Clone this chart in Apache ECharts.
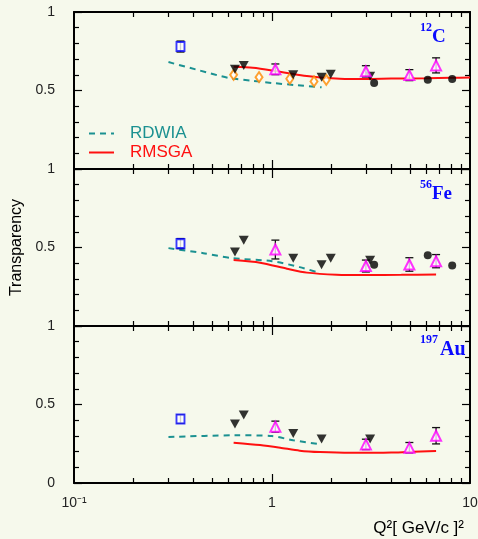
<!DOCTYPE html>
<html><head><meta charset="utf-8">
<script src="https://cdn.jsdelivr.net/npm/echarts@6/dist/echarts.min.js"></script>
<style>html,body{margin:0;padding:0;background:#f6f9ec}#c{width:478px;height:539px}</style>
</head><body><div id="c"></div><script>
// ---- data (Q^2 in (GeV/c)^2, transparency) ----
const qSquare = [0.345];
const qTriangle = [0.65, 0.72, 1.28, 1.78, 1.98, 3.13];
const qTriangleAu = [0.65, 0.72, 1.28, 1.78, 3.13];
const qMagenta = [1.04, 2.98, 4.94, 6.74];
const qCircle = [3.28, 6.12, 8.13];
const qDiamond = [0.64, 0.86, 1.23, 1.63, 1.88];

// 12C
const squareC = [0.78], squareErrC = [0.035];
const triangleC = [0.635, 0.66, 0.60, 0.585, 0.603, 0.59];
const magentaC = [0.635, 0.622, 0.598, 0.66], magentaErrC = [0.034, 0.036, 0.035, 0.048];
const circleC = [0.547, 0.568, 0.573];
const diamondC = [0.60, 0.585, 0.575, 0.558, 0.568];
const rdwiaQC = [0.3, 0.43, 0.6, 0.8, 1.0, 1.3, 1.78];
const rdwiaC = [0.681, 0.628, 0.581, 0.562, 0.548, 0.535, 0.52];
const rmsgaQC = [0.64, 0.8, 1.0, 1.28, 1.5, 1.75, 2.2, 3, 4, 6, 8, 10];
const rmsgaC = [0.652, 0.645, 0.628, 0.605, 0.592, 0.583, 0.575, 0.573, 0.576, 0.578, 0.581, 0.583];

// 56Fe
const squareFe = [0.525], squareErrFe = [0.032];
const triangleFe = [0.472, 0.546, 0.432, 0.39, 0.432, 0.418];
const magentaFe = [0.487, 0.382, 0.392, 0.413], magentaErrFe = [0.06, 0.038, 0.043, 0.042];
const circleFe = [0.39, 0.451, 0.386];
const rdwiaQFe = [0.3, 0.45, 0.63, 1.0, 1.38, 1.75];
const rdwiaFe = [0.496, 0.464, 0.432, 0.413, 0.375, 0.337];
const rmsgaQFe = [0.64, 0.87, 1.19, 1.5, 2.12, 3, 4.5, 6.74];
const rmsgaFe = [0.42, 0.403, 0.365, 0.34, 0.327, 0.325, 0.326, 0.328];

// 197Au
const squareAu = [0.408], squareErrAu = [0.027];
const triangleAu = [0.376, 0.433, 0.316, 0.28, 0.28];
const magentaAu = [0.359, 0.246, 0.225, 0.301], magentaErrAu = [0.035, 0.033, 0.033, 0.052];
const rdwiaQAu = [0.3, 0.65, 1.0, 1.28, 1.78];
const rdwiaAu = [0.293, 0.304, 0.299, 0.272, 0.246];
const rmsgaQAu = [0.64, 0.87, 1.1, 1.38, 1.75, 2.5, 4, 6.74];
const rmsgaAu = [0.257, 0.242, 0.225, 0.206, 0.197, 0.192, 0.194, 0.204];

// ticks / labels
const xMinorTicks = [0.2, 0.3, 0.4, 0.5, 0.6, 0.7, 0.8, 0.9, 2, 3, 4, 5, 6, 7, 8, 9];
const xMajorTicks = [1];
const xTickLabels = {'-1': '10\u207B\u00B9', '0': '1', '1': '10'};
const nuclei = [['12', 'C'], ['56', 'Fe'], ['197', 'Au']];
const legendNames = ['RDWIA', 'RMSGA'];

// ---- build ----
const zip = (xs, ys) => xs.map((x, i) => [x, ys[i]]);
const zipE = (xs, ys, es) => xs.map((x, i) => [x, ys[i], es[i]]);

const panels = [
  {sq: zipE(qSquare, squareC, squareErrC), tri: zip(qTriangle, triangleC), mag: zipE(qMagenta, magentaC, magentaErrC),
   circ: zip(qCircle, circleC), dia: zip(qDiamond, diamondC), rdwia: zip(rdwiaQC, rdwiaC), rmsga: zip(rmsgaQC, rmsgaC)},
  {sq: zipE(qSquare, squareFe, squareErrFe), tri: zip(qTriangle, triangleFe), mag: zipE(qMagenta, magentaFe, magentaErrFe),
   circ: zip(qCircle, circleFe), dia: [], rdwia: zip(rdwiaQFe, rdwiaFe), rmsga: zip(rmsgaQFe, rmsgaFe)},
  {sq: zipE(qSquare, squareAu, squareErrAu), tri: zip(qTriangleAu, triangleAu), mag: zipE(qMagenta, magentaAu, magentaErrAu),
   circ: [], dia: [], rdwia: zip(rdwiaQAu, rdwiaAu), rmsga: zip(rmsgaQAu, rmsgaAu)}
];

const TEAL = '#1b9191', RED = '#ff1010', BLUE = '#0a0aff', MAG = '#ff00ff', ORANGE = '#ff8a00', BG = '#f6f9ec';
const FONT = '"Liberation Sans", Arial, sans-serif';
const gridTops = [12, 169, 326];
const grids = gridTops.map(t => ({left: 74, right: 8, top: t, height: 157, outerBoundsMode: 'none'}));

const xAxes = [], yAxes = [], series = [];
const lineAx = () => ({show: true, onZero: false, lineStyle: {color: '#000', width: 2}});
panels.forEach((p, i) => {
  const mk = (pos, vals, len, withLine, label) => ({
    type: 'log', logBase: 10, gridIndex: i, min: 0.1, max: 10, position: pos,
    axisLine: withLine ? lineAx() : {show: false, onZero: false},
    axisTick: {show: true, inside: true, length: len, customValues: vals, lineStyle: {color: '#000', width: 1.2}},
    splitLine: {show: false}, minorTick: {show: false},
    axisLabel: label || {show: false}
  });
  xAxes.push(mk('bottom', xMinorTicks, 5, true));
  xAxes.push(mk('top', xMinorTicks, 5, true));
  const lab = i === 2 ? {
    show: true, margin: 13, fontSize: 14, fontFamily: FONT, color: '#222',
    formatter: v => xTickLabels[String(Math.round(Math.log10(v)))] || ''
  } : null;
  const bm = mk('bottom', xMajorTicks, 9, false, lab);
  if (i === 2) {
    bm.name = 'Q\u00b2[ GeV/c ]\u00b2';
    bm.nameLocation = 'end';
    bm.nameGap = 0;
    bm.nameTextStyle = {fontSize: 17, fontFamily: FONT, color: '#000', align: 'right', verticalAlign: 'top', padding: [37, 6, 0, 0]};
  }
  xAxes.push(bm);
  xAxes.push(mk('top', xMajorTicks, 9, false));

  const mky = (pos, showLabel) => ({
    type: 'value', gridIndex: i, min: 0, max: 1, interval: 0.5, position: pos,
    axisLine: lineAx(),
    axisTick: {show: true, inside: true, length: 8, lineStyle: {color: '#000', width: 1.2}},
    minorTick: {show: true, splitNumber: 5, length: 5, lineStyle: {color: '#000', width: 1.2}},
    splitLine: {show: false}, minorSplitLine: {show: false},
    axisLabel: showLabel ? {show: true, margin: 19, fontSize: 14, fontFamily: FONT, color: '#222',
      formatter: v => (v === 0 && i < 2) ? '' : String(v)} : {show: false}
  });
  const ly = mky('left', true);
  if (i === 1) {
    ly.name = 'Transparency';
    ly.nameLocation = 'middle';
    ly.nameGap = 45;
    ly.nameTextStyle = {fontSize: 16, fontFamily: FONT, color: '#000'};
  }
  yAxes.push(ly);
  yAxes.push(mky('right', false));

  const xi = 4 * i, yi = 2 * i;
  const base = {xAxisIndex: xi, yAxisIndex: yi, animation: false, silent: true};
  series.push(Object.assign({}, base, {type: 'line', name: 'RDWIA', data: p.rdwia, smooth: 0.25, symbol: 'none', showSymbol: false,
    lineStyle: {color: TEAL, width: 2, type: [6, 5]}, itemStyle: {color: TEAL}, z: 2}));
  series.push(Object.assign({}, base, {type: 'line', name: 'RMSGA', data: p.rmsga, smooth: 0.25, symbol: 'none', showSymbol: false,
    lineStyle: {color: RED, width: 2}, itemStyle: {color: RED}, z: 2}));
  const errData = p.sq.concat(p.mag);
  series.push(Object.assign({}, base, {type: 'custom', name: 'err' + i, data: errData, encode: {x: 0, y: 1}, z: 3,
    renderItem: (params, api) => {
      const x = api.value(0), y = api.value(1), e = api.value(2);
      const a = api.coord([x, y + e]), b = api.coord([x, y - e]);
      const st = {stroke: '#111', lineWidth: 1.3};
      return {type: 'group', children: [
        {type: 'line', shape: {x1: a[0], y1: a[1], x2: b[0], y2: b[1]}, style: st},
        {type: 'line', shape: {x1: a[0] - 4, y1: a[1], x2: a[0] + 4, y2: a[1]}, style: st},
        {type: 'line', shape: {x1: b[0] - 4, y1: b[1], x2: b[0] + 4, y2: b[1]}, style: st}
      ]};
    }}));
  const sc = (name, data, symbol, size, style, rot) => Object.assign({}, base, {type: 'scatter', name: name + i, data: data,
    symbol: symbol, symbolSize: size, symbolRotate: rot || 0, itemStyle: style, z: 5});
  series.push(sc('dia', p.dia, 'diamond', [7, 10], {color: '#fff', borderColor: ORANGE, borderWidth: 2}));
  series.push(sc('tri', p.tri, 'triangle', [10, 9], {color: '#000'}, 180));
  series.push(sc('circ', p.circ, 'circle', 8, {color: '#000'}));
  series.push(sc('mag', p.mag.map(d => [d[0], d[1]]), 'triangle', [10, 10], {color: '#fff4ff', borderColor: MAG, borderWidth: 2}));
  series.push(sc('sq', p.sq.map(d => [d[0], d[1]]), 'rect', [8, 9], {color: '#fff', borderColor: BLUE, borderWidth: 2}));
});

const nucTops = [[22, 27.5], [179, 184.5], [334, 339.5]];
const nucSizes = [19, 19, 20];
const graphic = [];
nuclei.forEach((n, i) => {
  graphic.push({type: 'text', left: 420, top: nucTops[i][0], silent: true,
    style: {text: n[0], font: 'bold 12px "Liberation Serif", serif', fill: BLUE}});
  graphic.push({type: 'text', left: 420 + (n[0].length === 3 ? 20 : 12), top: nucTops[i][1], silent: true,
    style: {text: n[1], font: 'bold ' + nucSizes[i] + 'px "Liberation Serif", serif', fill: BLUE}});
});

const chart = echarts.init(document.getElementById('c'), null, {renderer: 'canvas'});
chart.setOption({
  backgroundColor: BG,
  animation: false,
  grid: grids,
  xAxis: xAxes,
  yAxis: yAxes,
  legend: {
    show: true, orient: 'vertical', left: 88, top: 125, padding: 0, itemWidth: 25, itemHeight: 12, itemGap: 2,
    selectedMode: false, itemStyle: {opacity: 0},
    data: [{name: legendNames[0], textStyle: {color: TEAL}}, {name: legendNames[1], textStyle: {color: RED}}],
    textStyle: {fontSize: 17, fontFamily: FONT, lineHeight: 17, padding: [0, 0, 0, 11]}
  },
  graphic: graphic,
  series: series
});
</script></body></html>
